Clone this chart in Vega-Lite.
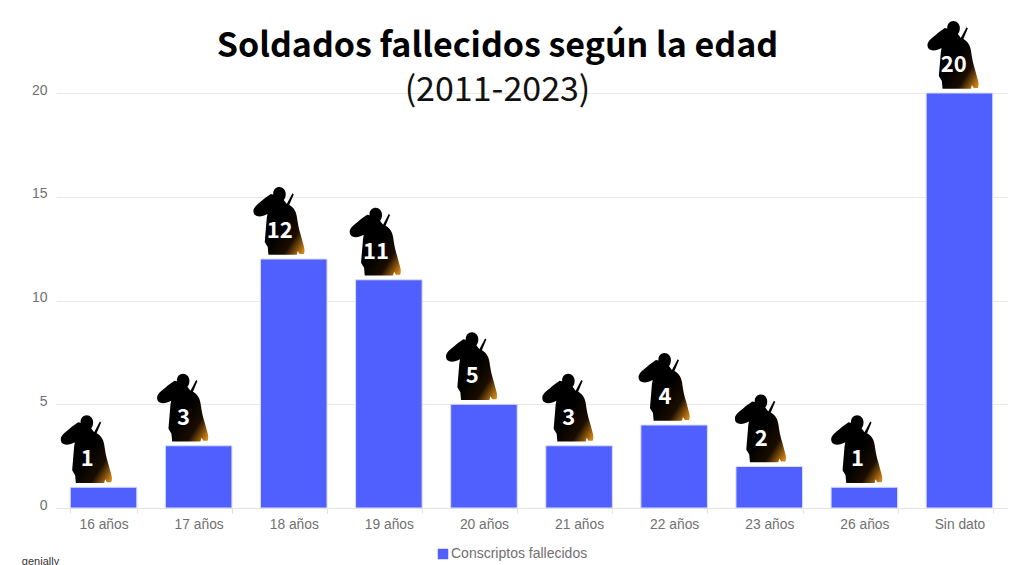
{
"$schema":"https://vega.github.io/schema/vega-lite/v6.json",
"autosize":"none","width":951,"height":415,
"padding":{"left":56,"top":93,"right":17,"bottom":57},
"background":"white",
"title":{"text":"Soldados fallecidos según la edad","subtitle":"(2011-2023)","anchor":"middle","dx":-34,"offset":-87,"font":"Noto Sans CJK SC","fontSize":34,"fontWeight":"bold","color":"#000","subtitleFont":"Noto Sans CJK SC","subtitleFontSize":34,"subtitleFontWeight":400,"subtitleColor":"#111","subtitlePadding":10},
"config":{"view":{"stroke":null}},
"data":{"values":[
{"edad":"16 años","n":1,"serie":"Conscriptos fallecidos"},
{"edad":"17 años","n":3,"serie":"Conscriptos fallecidos"},
{"edad":"18 años","n":12,"serie":"Conscriptos fallecidos"},
{"edad":"19 años","n":11,"serie":"Conscriptos fallecidos"},
{"edad":"20 años","n":5,"serie":"Conscriptos fallecidos"},
{"edad":"21 años","n":3,"serie":"Conscriptos fallecidos"},
{"edad":"22 años","n":4,"serie":"Conscriptos fallecidos"},
{"edad":"23 años","n":2,"serie":"Conscriptos fallecidos"},
{"edad":"26 años","n":1,"serie":"Conscriptos fallecidos"},
{"edad":"Sin dato","n":20,"serie":"Conscriptos fallecidos"}]},
"encoding":{"y":{"field":"n","type":"quantitative","scale":{"domain":[0,20]},
"axis":{"title":null,"values":[0,5,10,15,20],"grid":true,"gridColor":"#e8e8e8","ticks":false,"domain":false,"labelFont":"Liberation Sans","labelFontSize":14,"labelColor":"#707070","labelPadding":9,"labelOffset":-3}}},
"layer":[
{"mark":{"type":"bar","stroke":"#d9ddff","strokeWidth":1},
"encoding":{
"x":{"field":"edad","type":"nominal","sort":null,"scale":{"paddingInner":0.3,"paddingOuter":0.15},
"axis":{"title":"genially","titleX":-16,"titleY":47,"titleFontSize":11,"titleColor":"#333","titleFont":"Liberation Sans","titleFontWeight":"normal","labelAngle":0,"labelFont":"Liberation Sans","labelFontSize":13.8,"labelColor":"#707070","labelPadding":4,"domainColor":"#e3e3e3","tickColor":"#e3e3e3","tickBand":"extent","tickSize":5}},
"color":{"field":"serie","type":"nominal","scale":{"range":["#5060ff"]},
"legend":{"title":null,"orient":"none","legendX":380,"legendY":454,"symbolType":"square","symbolSize":110,"symbolStrokeWidth":0,"labelFont":"Liberation Sans","labelFontSize":14,"labelColor":"#707070","labelOffset":1}}}},
{"mark":{"type":"point","filled":true,"size":4,"opacity":1,"strokeWidth":0,
"shape":"M0.7,-72 C4,-72 7,-69 7,-65 C7,-62 6,-60 5,-59 L8,-55 L13.7,-65.7 L15,-64.7 L10.5,-54 C14,-52 17,-49 18,-43 C19,-36 20,-30 22,-24 L25,-13 C26,-10 26,-7 25,-5 L21,-5 L19,-8 L18,-4.3 L-10.3,-4.3 L-11,-12 L-14,-17 L-13,-29 L-12,-41 L-11.3,-45 C-15,-43 -19,-42 -22,-43 C-25,-44 -26,-47 -25,-50 C-23,-54 -18,-57 -14,-60.7 L-8,-65 L-5.5,-64.5 C-6,-69 -3,-72 0.7,-72 Z",
"fill":{"gradient":"linear","x1":0.5,"y1":0.6,"x2":0.95,"y2":0.98,"stops":[{"offset":0,"color":"#000000"},{"offset":0.55,"color":"#1a0d00"},{"offset":1,"color":"#d08418"}]}},
"encoding":{
"x":{"field":"edad","type":"nominal","sort":null,"scale":{"range":[-18,945],"paddingInner":0,"paddingOuter":0},"axis":null}}},
{"mark":{"type":"text","font":"Noto Sans CJK SC","fontWeight":"bold","fontSize":22,"color":"white","dx":1,"dy":-28,"baseline":"middle","align":"center"},
"encoding":{
"x":{"field":"edad","type":"nominal","sort":null,"scale":{"range":[-18,945],"paddingInner":0,"paddingOuter":0},"axis":null},
"text":{"field":"n","type":"quantitative"}}}
],
"resolve":{"scale":{"x":"independent"}}
}
